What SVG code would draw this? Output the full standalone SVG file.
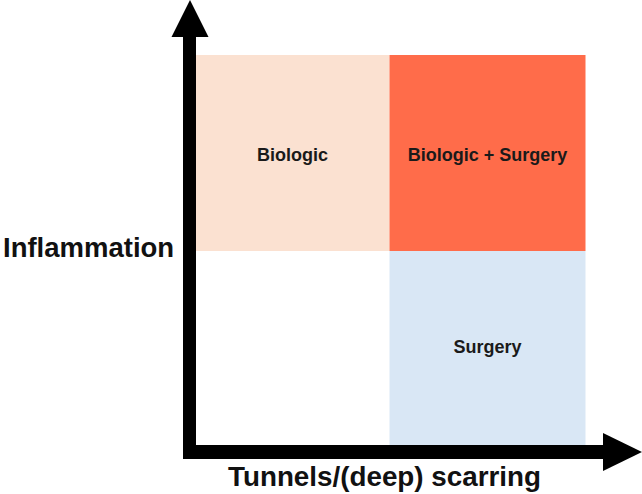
<svg xmlns="http://www.w3.org/2000/svg" width="642" height="494" viewBox="0 0 642 494">
<style>
.lbl{font-family:"Liberation Sans",Arial,sans-serif;font-weight:bold;font-size:18px;fill:#1a1a1a;text-anchor:middle}
.axis{font-family:"Liberation Sans",Arial,sans-serif;font-weight:bold;fill:#111}
</style>
<rect width="642" height="494" fill="#ffffff"/>
<g id="biologic">
<rect x="196" y="55" width="193.5" height="196" fill="#fbe1d1"/>
<text class="lbl" x="292.5" y="161">Biologic</text>
</g>
<g id="biologic-surgery">
<rect x="389.5" y="55" width="196" height="196" fill="#ff6c4a"/>
<text class="lbl" x="487.5" y="161">Biologic + Surgery</text>
</g>
<g id="surgery">
<rect x="389.5" y="251" width="196" height="194" fill="#d9e7f5"/>
<text class="lbl" x="487.5" y="353">Surgery</text>
</g>
<g id="connectors">
<path d="M189.5 459 V36" stroke="#000" stroke-width="13" fill="none"/>
<polygon points="190,0 208.5,37 171.5,37" fill="#000"/>
<path d="M183 452 H604" stroke="#000" stroke-width="14" fill="none"/>
<polygon points="642,452 603,433 603,471" fill="#000"/>
</g>
<g id="labels">
<text class="axis" x="3" y="257" font-size="27.5">Inflammation</text>
<text class="axis" x="228" y="486" font-size="27.8">Tunnels/(deep) scarring</text>
</g>
</svg>
